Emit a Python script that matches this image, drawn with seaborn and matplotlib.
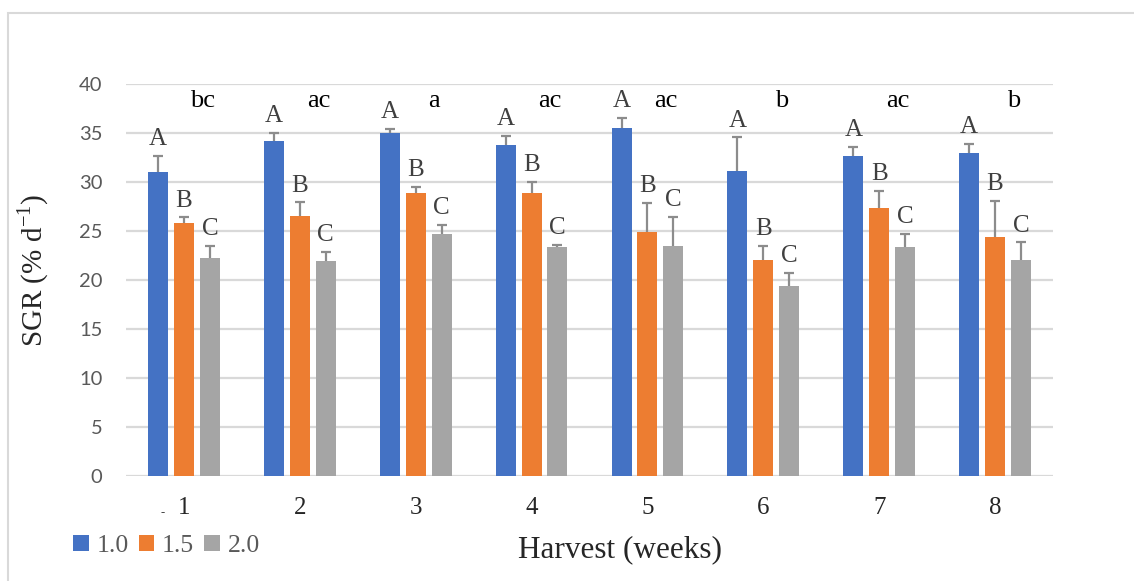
import matplotlib
matplotlib.use("Agg")
import matplotlib.pyplot as plt
import matplotlib.patches as mpatches
import numpy as np
import pandas as pd
import seaborn as sns

weeks = ["1", "2", "3", "4", "5", "6", "7", "8"]
densities = ["1.0", "1.5", "2.0"]

sgr_10 = [31.05, 34.2, 34.97, 33.74, 35.47, 31.09, 32.65, 33.0]
sgr_15 = [25.78, 26.56, 28.9, 28.9, 24.93, 22.07, 27.35, 24.35]
sgr_20 = [22.2, 21.9, 24.69, 23.4, 23.5, 19.39, 23.33, 22.0]

err_10 = [1.6, 0.85, 0.47, 0.95, 1.1, 3.47, 0.9, 0.9]
err_15 = [0.6, 1.36, 0.6, 1.1, 2.9, 1.43, 1.77, 3.75]
err_20 = [1.3, 1.0, 0.95, 0.2, 2.95, 1.3, 1.36, 1.84]

group_letters = ["bc", "ac", "a", "ac", "ac", "b", "ac", "b"]
bar_letters = ["A", "B", "C"]

colors = ["#4472C4", "#ED7D31", "#A5A5A5"]

df = pd.DataFrame({
    "week": weeks * 3,
    "density": [d for d in densities for _ in weeks],
    "sgr": sgr_10 + sgr_15 + sgr_20,
    "err": err_10 + err_15 + err_20,
})

sns.set_theme(style="white")
plt.rcParams["font.family"] = ["Liberation Serif", "DejaVu Serif"]
plt.rcParams["mathtext.fontset"] = "custom"
plt.rcParams["mathtext.rm"] = "Liberation Serif"

fig = plt.figure(figsize=(11.34, 5.81), dpi=100)
ax = fig.add_axes([126 / 1134, 1 - 476 / 581, 927 / 1134, 392 / 581])

sns.barplot(
    data=df, x="week", y="sgr", hue="density", order=weeks, hue_order=densities,
    palette=colors, width=0.67, gap=0.23, errorbar=None, saturation=1,
    edgecolor="none", ax=ax, legend=True, zorder=3,
)

# one-sided error bars and letters, placed from the bar patches
errs = [err_10, err_15, err_20]
bar_containers = list(ax.containers)
for hi, container in enumerate(bar_containers):
    for wi, bar in enumerate(container):
        xc = bar.get_x() + bar.get_width() / 2
        top = bar.get_height()
        e = errs[hi][wi]
        _, caps, _ = ax.errorbar(xc, top, yerr=[[0], [e]], fmt="none", ecolor="#8c8c8c",
                                 elinewidth=1.6, capsize=3.5, capthick=1.6, zorder=4)
        caps[0].set_visible(False)  # upper bar only
        caps[1].set_color("#595959")
        ax.text(xc, top + e + 1.1, bar_letters[hi], ha="center", va="baseline",
                fontsize=18, color="#404040", zorder=5)

for i, lab in enumerate(group_letters):
    ax.text(i + 0.16, 37.7, lab, ha="center", va="baseline", fontsize=19, color="black")

ax.set_ylim(0, 40)
ax.set_xlim(-0.5, len(weeks) - 0.5)
ax.set_yticks(range(0, 41, 5))
ax.grid(axis="y", color="#d9d9d9", linewidth=1.6, zorder=0)
ax.set_axisbelow(True)
for s in ax.spines.values():
    s.set_visible(False)
ax.tick_params(axis="both", length=0)
ax.tick_params(axis="y", pad=17, labelsize=14.5, labelcolor="#595959")
ax.tick_params(axis="x", pad=15, labelsize=18)
for t in ax.get_yticklabels():
    t.set_family(["Lato", "DejaVu Sans"])

ax.set_xlabel("Harvest (weeks)", fontsize=22.5)
ax.xaxis.set_label_coords(0.533, -0.189)
ax.xaxis.label.set_va("center")
ax.set_ylabel("SGR (% d$^{\\mathregular{-1}}$)", fontsize=21)
ax.yaxis.set_label_coords(-0.1, 0.525)
ax.yaxis.label.set_va("center")

ax.text(-0.18, -3.8, "-", ha="center", va="center", fontsize=9, color="#404040")

handles, labels = ax.get_legend_handles_labels()
ax.get_legend().remove()
fig.legend(handles, labels, loc="center left", bbox_to_anchor=(50 / 1134, 1 - 546 / 581),
           ncol=3, frameon=False, handlelength=0.6, handleheight=0.6,
           handletextpad=0.3, columnspacing=0.4, fontsize=18.5, labelcolor="#595959")

fig.patches.append(mpatches.Rectangle((8 / 1134, -0.05), 1.2, 1 + 0.05 - 13 / 581,
                                      transform=fig.transFigure, fill=False,
                                      edgecolor="#d9d9d9", linewidth=1.5))

fig.savefig("out.png", dpi=100)
